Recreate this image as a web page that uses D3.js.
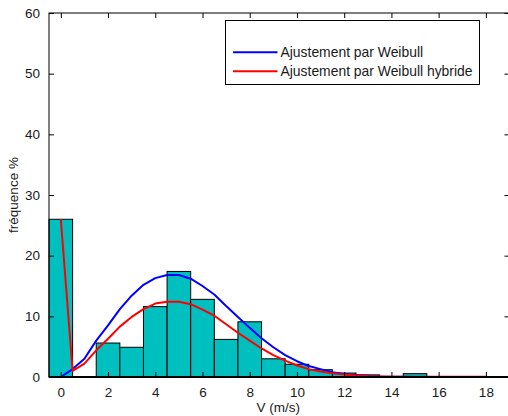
<!DOCTYPE html>
<html>
<head>
<meta charset="utf-8">
<script src="https://cdn.jsdelivr.net/npm/d3@7"></script>
<style>
  html, body { margin: 0; padding: 0; background: #fff; }
  svg { display: block; font-family: "Liberation Sans", Arial, sans-serif; }
</style>
</head>
<body>
<svg id="chart" width="508" height="416"></svg>
<script>
// Histogram: bin centres (m/s) and frequencies (%)
const binCenters = [0, 1, 2, 3, 4, 5, 6, 7, 8, 9, 10, 11, 12, 13, 14, 15, 16, 17, 18];
const binFreq    = [26.0, 0, 5.6, 4.9, 11.6, 17.4, 12.8, 6.2, 9.1, 3.0, 2.1, 1.2, 0.65, 0.35, 0, 0.55, 0, 0, 0];

// Fitted curves sampled every 0.5 m/s
const curveX = [0, 0.5, 1, 1.5, 2, 2.5, 3, 3.5, 4, 4.5, 5, 5.5, 6, 6.5, 7, 7.5, 8, 8.5, 9, 9.5,
                10, 10.5, 11, 11.5, 12, 12.5, 13, 13.5, 14, 14.5, 15, 15.5, 16, 16.5, 17, 17.5, 18];
const weibull = [0, 1.3, 3.0, 6.0, 8.5, 11.2, 13.4, 15.2, 16.3, 16.8, 16.8, 16.2, 15.0, 13.6, 11.7, 9.9,
                 8.1, 6.4, 4.9, 3.6, 2.6, 1.8, 1.3, 0.8, 0.5, 0.3, 0.2, 0.1, 0.05, 0.03, 0.02, 0.01, 0, 0, 0, 0, 0];
const weibullHybrid = [26.0, 1.0, 2.2, 4.4, 6.3, 8.3, 9.9, 11.2, 12.1, 12.4, 12.4, 12.0, 11.1, 10.1, 8.7, 7.3,
                 6.0, 4.7, 3.6, 2.7, 1.9, 1.3, 0.9, 0.6, 0.4, 0.25, 0.15, 0.1, 0.05, 0.05, 0.05, 0.05, 0.05, 0.05, 0.05, 0.05, 0.05];

const xTicks = [0, 2, 4, 6, 8, 10, 12, 14, 16, 18];
const yTicks = [0, 10, 20, 30, 40, 50, 60];
const seriesNames = ["Ajustement par Weibull", "Ajustement par Weibull hybride"];
const seriesColors = ["#0000ff", "#ff0000"];
const xLabel = "V (m/s)";
const yLabel = "fréquence %";

const svg = d3.select("#chart");
const L = 49, R = 509.5, T = 13, B = 377;
const x = d3.scaleLinear().domain([-0.5, 19]).range([L, R]);
const y = d3.scaleLinear().domain([0, 60]).range([B, T]);
const fs = 13.5;

// bars
svg.append("g").selectAll("rect")
  .data(binCenters.map((c, i) => ({c, v: binFreq[i]})).filter(d => d.v > 0))
  .join("rect")
  .attr("x", d => x(d.c - 0.5))
  .attr("width", d => x(d.c + 0.5) - x(d.c - 0.5))
  .attr("y", d => y(d.v))
  .attr("height", d => y(0) - y(d.v))
  .attr("fill", "#00bfbf")
  .attr("stroke", "#000")
  .attr("stroke-width", 1);

// curves
const line = d3.line().x(d => x(d[0])).y(d => y(d[1]));
[weibull, weibullHybrid].forEach((vals, i) => {
  svg.append("path")
    .attr("d", line(curveX.map((cx, j) => [cx, vals[j]])))
    .attr("fill", "none")
    .attr("stroke", seriesColors[i])
    .attr("stroke-width", 2)
    .attr("stroke-linejoin", "round");
});

// axes (MATLAB style box with inward ticks)
const tickLen = 5;
const gB = svg.append("g").attr("transform", `translate(0,${B})`)
  .call(d3.axisBottom(x).tickValues(xTicks).tickSize(-tickLen).tickPadding(10).tickFormat(d3.format("d")));
const gT = svg.append("g").attr("transform", `translate(0,${T})`)
  .call(d3.axisTop(x).tickValues(xTicks).tickSize(-tickLen).tickFormat(""));
const gL = svg.append("g").attr("transform", `translate(${L},0)`)
  .call(d3.axisLeft(y).tickValues(yTicks).tickSize(-tickLen).tickPadding(9).tickFormat(d3.format("d")));
const gR = svg.append("g").attr("transform", `translate(${R},0)`)
  .call(d3.axisRight(y).tickValues(yTicks).tickSize(-tickLen).tickFormat(""));
[gB, gT, gL, gR].forEach(g => {
  g.select(".domain").remove();
  g.selectAll(".tick line").attr("stroke", "#000");
  g.selectAll("text").attr("font-size", fs).attr("fill", "#1a1a1a")
    .attr("font-family", "'Liberation Sans', Arial, sans-serif");
});
svg.append("rect").attr("x", L).attr("y", T).attr("width", R - L).attr("height", B - T)
  .attr("fill", "none").attr("stroke", "#000").attr("stroke-width", 1);
svg.append("line").attr("x1", L).attr("x2", R).attr("y1", B).attr("y2", B)
  .attr("stroke", "#000").attr("stroke-width", 2);

// axis labels
svg.append("text").attr("x", (L + R) / 2 - 1).attr("y", 412).attr("text-anchor", "middle")
  .attr("font-size", fs).attr("fill", "#1a1a1a").text(xLabel);
svg.append("text").attr("transform", `translate(18,${(T + B) / 2}) rotate(-90)`)
  .attr("text-anchor", "middle").attr("font-size", fs).attr("fill", "#1a1a1a").text(yLabel);

// legend
const lg = svg.append("g");
lg.append("rect").attr("x", 225.5).attr("y", 20.5).attr("width", 254).attr("height", 64)
  .attr("fill", "#fff").attr("stroke", "#000").attr("stroke-width", 1);
const legY = [52.3, 71.3];
seriesNames.forEach((name, i) => {
  lg.append("line").attr("x1", 233).attr("x2", 277.5).attr("y1", legY[i]).attr("y2", legY[i])
    .attr("stroke", seriesColors[i]).attr("stroke-width", 2);
  lg.append("text").attr("x", 280.5).attr("y", legY[i] + 4.9).attr("font-size", 13.9)
    .attr("fill", "#1a1a1a").text(name);
});
</script>
</body>
</html>
